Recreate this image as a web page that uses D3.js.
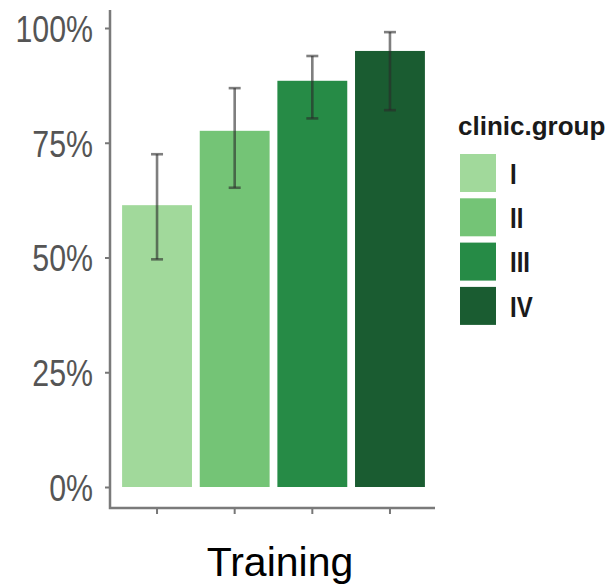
<!DOCTYPE html>
<html>
<head>
<meta charset="utf-8">
<script src="https://cdn.jsdelivr.net/npm/d3@7"></script>
<style>
  html, body { margin: 0; padding: 0; background: #fff; }
  svg { display: block; }
</style>
</head>
<body>
<svg id="chart" width="611" height="585"></svg>
<script>
// Share of cases per clinic group, with error bars (lower / upper bounds)
const groups = ["I", "II", "III", "IV"];
const values = [0.614, 0.776, 0.885, 0.950];
const lower  = [0.496, 0.652, 0.803, 0.821];
const upper  = [0.725, 0.869, 0.939, 0.991];
const colors = ["#a1d99b", "#74c476", "#268b46", "#1a5c31"];
const yTicks = [0, 0.25, 0.5, 0.75, 1];
const xTitle = "Training";
const legendTitle = "clinic.group";

const svg = d3.select("#chart");

// Plot panel bounds
const panel = { left: 110, right: 435, top: 10, bottom: 508 };

const y = d3.scaleLinear().domain([0, 1]).range([487, 28]);
const x = d3.scaleBand().domain(groups)
  .range([panel.left + 2, panel.right])
  .paddingInner(0.1).paddingOuter(0.13);
const color = d3.scaleOrdinal().domain(groups).range(colors);

const data = groups.map((g, i) => ({ g, v: values[i], lo: lower[i], hi: upper[i] }));

// Bars
svg.append("g").selectAll("rect").data(data).join("rect")
  .attr("x", d => x(d.g))
  .attr("width", x.bandwidth())
  .attr("y", d => y(d.v))
  .attr("height", d => y(0) - y(d.v))
  .attr("fill", d => color(d.g));

// Error bars
const eb = svg.append("g")
  .attr("stroke", "#2a2a2a")
  .attr("stroke-opacity", 0.6)
  .attr("stroke-width", 2.6)
  .attr("fill", "none");
const capHalf = 6;
data.forEach(d => {
  const cx = x(d.g) + x.bandwidth() / 2;
  eb.append("line").attr("x1", cx).attr("x2", cx).attr("y1", y(d.hi)).attr("y2", y(d.lo));
  eb.append("line").attr("x1", cx - capHalf).attr("x2", cx + capHalf).attr("y1", y(d.hi)).attr("y2", y(d.hi));
  eb.append("line").attr("x1", cx - capHalf).attr("x2", cx + capHalf).attr("y1", y(d.lo)).attr("y2", y(d.lo));
});

// Y axis
const yAxis = svg.append("g")
  .attr("transform", `translate(${panel.left},0)`)
  .call(d3.axisLeft(y).tickValues(yTicks).tickFormat(d3.format(".0%")).tickSize(5).tickPadding(12));
yAxis.select(".domain").remove();
yAxis.selectAll(".tick line").attr("stroke", "#777").attr("stroke-width", 2);
yAxis.selectAll(".tick text")
  .attr("font-family", "'Liberation Sans', Arial, sans-serif")
  .attr("font-size", 37)
  .attr("fill", "#555")
  .attr("dy", "0.36em")
  .attr("transform", "scale(0.82,1)")
  .attr("x", -17 / 0.82);

// X axis
const xAxis = svg.append("g")
  .attr("transform", `translate(0,${panel.bottom})`)
  .call(d3.axisBottom(x).tickSize(6).tickFormat(""));
xAxis.select(".domain").remove();
xAxis.selectAll(".tick line").attr("stroke", "#777").attr("stroke-width", 2);

// Axis lines
svg.append("path")
  .attr("d", `M${panel.left},${panel.top}V${panel.bottom}H${panel.right}`)
  .attr("fill", "none")
  .attr("stroke", "#7a7a7a")
  .attr("stroke-width", 2.5);

// X title
svg.append("text")
  .attr("x", 280).attr("y", 576)
  .attr("text-anchor", "middle")
  .attr("font-family", "'Liberation Sans', Arial, sans-serif")
  .attr("font-size", 41)
  .attr("fill", "#000")
  .text(xTitle);

// Legend
const legend = svg.append("g").attr("transform", "translate(458,0)");
legend.append("text")
  .attr("x", 0).attr("y", 135)
  .attr("font-family", "'Liberation Sans', Arial, sans-serif")
  .attr("font-weight", "bold")
  .attr("font-size", 26)
  .attr("fill", "#1a1a1a")
  .text(legendTitle);
const items = legend.selectAll("g.item").data(groups).join("g")
  .attr("class", "item")
  .attr("transform", (d, i) => `translate(2,${154 + i * 44.3})`);
items.append("rect")
  .attr("width", 36).attr("height", 38)
  .attr("fill", d => color(d));
items.append("text")
  .attr("transform", "translate(50,19) scale(0.8,1)")
  .attr("dy", "0.36em")
  .attr("font-family", "'Liberation Sans', Arial, sans-serif")
  .attr("font-weight", "bold")
  .attr("font-size", 30)
  .attr("fill", "#1a1a1a")
  .text(d => d);
</script>
</body>
</html>
